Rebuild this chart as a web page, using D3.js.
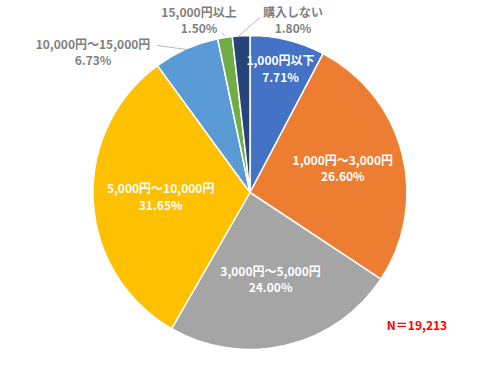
<!DOCTYPE html>
<html><head><meta charset="utf-8">
<script src="https://cdn.jsdelivr.net/npm/d3@7"></script>
<style>body{margin:0;background:#fff}svg{display:block}text{font-family:"Noto Sans CJK JP","Noto Sans",sans-serif;font-weight:bold}</style>
</head><body><svg id="c" width="500" height="376"></svg>
<script>
const categories = ["1,000円以下","1,000円～3,000円","3,000円～5,000円","5,000円～10,000円","10,000円～15,000円","15,000円以上","購入しない"];
const values = [7.71, 26.60, 24.00, 31.65, 6.73, 1.50, 1.80];
const colors = ["#4472C4","#ED7D31","#A5A5A5","#FFC000","#5B9BD5","#70AD47","#264478"];
const sampleLabel = "N＝19,213";

const svg = d3.select("#c");
const cx = 250, cy = 192.5, R = 157;
const g = svg.append("g").attr("transform", `translate(${cx},${cy})`);
const pie = d3.pie().sort(null).value(d => d)(values);
const arc = d3.arc().innerRadius(0).outerRadius(R);
g.selectAll("path").data(pie).join("path")
  .attr("d", arc).attr("fill", (d,i) => colors[i])
  .attr("stroke", "#fff").attr("stroke-width", 1.5).attr("stroke-linejoin","round");

const fmt = v => v.toFixed(2) + "%";
// inside labels (radius factor per label)
const inside = {0: 0.81, 1: 0.61, 2: 0.57, 3: 0.57};
Object.entries(inside).forEach(([i, f]) => {
  const d = pie[i];
  const a = (d.startAngle + d.endAngle) / 2;
  const x = Math.sin(a) * R * f, y = -Math.cos(a) * R * f;
  const t = g.append("text").attr("text-anchor","middle").attr("fill","#fff").attr("font-size", 12);
  t.append("tspan").attr("x", x).attr("y", y - 4).text(categories[i]);
  t.append("tspan").attr("x", x).attr("y", y + 12.5).text(fmt(values[i]));
});
// outside labels with leader lines
const outside = [
  {i: 4, lx: -157, ly: -144, line: [[-93, -147], [-63, -143]]},
  {i: 5, lx: -51, ly: -176, line: [[-28, -160], [-25, -156]]},
  {i: 6, lx: 43, ly: -176, line: [[10, -175], [-12, -156]]}
];
outside.forEach(o => {
  const t = g.append("text").attr("text-anchor","middle").attr("fill","#7F7F7F").attr("font-size", 12);
  t.append("tspan").attr("x", o.lx).attr("y", o.ly).text(categories[o.i]);
  t.append("tspan").attr("x", o.lx).attr("y", o.ly + 16.5).text(fmt(values[o.i]));
  g.append("path").attr("d", d3.line()(o.line)).attr("stroke","#A6A6A6").attr("stroke-width",0.8).attr("fill","none");
});
svg.append("text").attr("x", 417).attr("y", 330).attr("text-anchor","middle")
  .attr("fill","#FF0000").attr("font-size", 12).text(sampleLabel);
</script></body></html>
